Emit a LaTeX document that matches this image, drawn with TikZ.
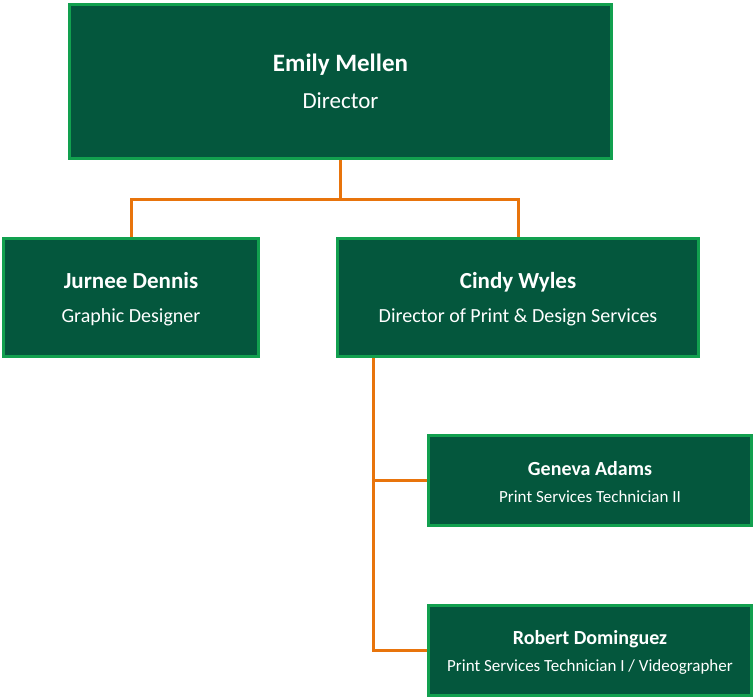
\documentclass[tikz,border=0pt]{standalone}
\usepackage{fontspec}
\setmainfont{Carlito}
\usetikzlibrary{positioning,calc,backgrounds}
\definecolor{boxgreen}{HTML}{04573D}
\definecolor{rimgreen}{HTML}{12A04F}
\definecolor{linkorange}{HTML}{E8740C}

\begin{document}
\begin{tikzpicture}[x=1pt, y=-1pt,
    box/.style={draw=rimgreen, line width=3pt, fill=boxgreen, text=white, align=center, inner sep=0pt},
    link/.style={draw=linkorange, line width=3pt},
    bigtext/.style={font=\fontsize{23}{37}\selectfont},
    midtext/.style={font=\fontsize{20}{34}\selectfont},
    smalltext/.style={font=\fontsize{17}{27}\selectfont}]
  \useasboundingbox (0,0) rectangle (755,700);

        \node[box, bigtext, minimum width=542pt, minimum height=154pt] (emily) at (340.5,81.5)
            {{\fontsize{25}{37}\selectfont\bfseries Emily Mellen}\\Director};
        \node[box, midtext, minimum width=255pt, minimum height=118pt] (jurnee) at (131,297.5)
            {\rule{0pt}{20pt}{\fontsize{23}{34}\selectfont\bfseries Jurnee Dennis}\\Graphic Designer};
        \node[box, midtext, minimum width=361pt, minimum height=118pt] (cindy) at (518,297.5)
            {\rule{0pt}{20pt}{\fontsize{23}{34}\selectfont\bfseries Cindy Wyles}\\Director of Print \& Design Services};
        \node[box, smalltext, minimum width=323pt, minimum height=90pt] (geneva) at (590,480.5)
            {\rule{0pt}{17pt}{\fontsize{20}{27}\selectfont\bfseries Geneva Adams}\\Print Services Technician II};
        \node[box, smalltext, minimum width=323pt, minimum height=90pt] (robert) at (590,650.5)
            {\rule{0pt}{17pt}{\fontsize{20}{27}\selectfont\bfseries Robert Dominguez}\\Print Services Technician I / Videographer};

        \begin{scope}[on background layer]
        \path[link] (emily.south) -- ++(0,40) coordinate (split);
        \path[link] (jurnee.north) |- (split) -| (cindy.north);
        \coordinate (trunk) at ($(cindy.south west)+(37,0)$);
        \path[link] (trunk) |- (geneva.west);
        \path[link] (trunk) |- (robert.west);
        \end{scope}
\end{tikzpicture}
\end{document}
